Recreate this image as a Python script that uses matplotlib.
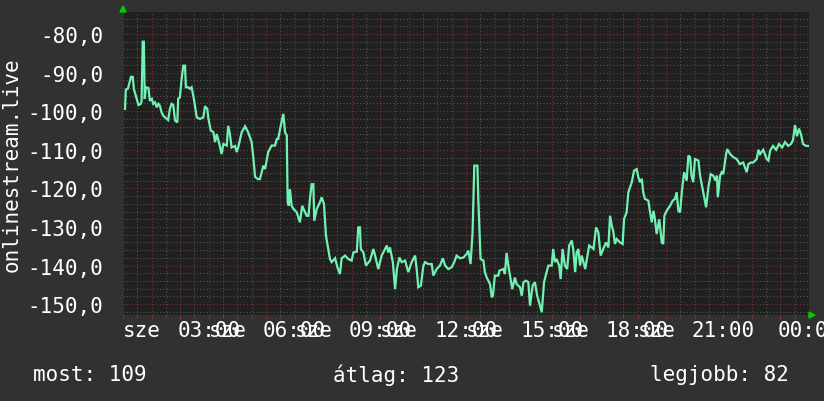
import numpy as np
import matplotlib
matplotlib.use('Agg')
import matplotlib.pyplot as plt
from matplotlib.ticker import MultipleLocator, FixedLocator

# data: hours since midnight, value (negated ms)
hours = [0.07, 0.10, 0.17, 0.28, 0.34, 0.38, 0.48, 0.54, 0.62, 0.65, 0.69, 0.73, 0.76, 0.80, 0.89,
         0.94, 1.01, 1.06, 1.12, 1.18, 1.24, 1.29, 1.35, 1.41, 1.53, 1.58, 1.64, 1.70, 1.76, 1.82,
         1.90, 1.93, 1.99, 2.05, 2.11, 2.17, 2.20, 2.28, 2.34, 2.40, 2.48, 2.58, 2.69, 2.81, 2.87,
         2.95, 2.98, 3.07, 3.16, 3.22, 3.28, 3.37, 3.45, 3.51, 3.63, 3.68, 3.74, 3.80, 3.92, 3.98,
         4.03, 4.15, 4.27, 4.38, 4.50, 4.56, 4.62, 4.72, 4.79, 4.91, 4.97, 5.08, 5.20, 5.32, 5.38,
         5.43, 5.52, 5.61, 5.67, 5.73, 5.76, 5.80, 5.84, 5.90, 5.96, 6.08, 6.19, 6.27, 6.37, 6.43,
         6.49, 6.54, 6.60, 6.66, 6.69, 6.78, 6.89, 6.95, 7.03, 7.10, 7.18, 7.24, 7.30, 7.42, 7.50,
         7.59, 7.65, 7.77, 7.88, 8.00, 8.06, 8.18, 8.23, 8.29, 8.32, 8.41, 8.50, 8.64, 8.76, 8.82,
         8.93, 9.05, 9.17, 9.23, 9.28, 9.34, 9.44, 9.52, 9.58, 9.67, 9.75, 9.87, 9.98, 10.10, 10.22,
         10.28, 10.33, 10.42, 10.51, 10.57, 10.68, 10.80, 10.86, 10.97, 11.09, 11.19, 11.27, 11.38,
         11.50, 11.59, 11.67, 11.79, 11.91, 12.02, 12.08, 12.16, 12.23, 12.29, 12.40, 12.43, 12.51,
         12.61, 12.66, 12.72, 12.84, 12.90, 12.94, 13.01, 13.13, 13.17, 13.31, 13.36, 13.42, 13.48,
         13.54, 13.62, 13.71, 13.77, 13.89, 13.95, 14.01, 14.10, 14.18, 14.24, 14.33, 14.41, 14.49,
         14.59, 14.65, 14.73, 14.82, 14.88, 15.00, 15.05, 15.11, 15.17, 15.26, 15.31, 15.38, 15.46,
         15.54, 15.61, 15.70, 15.75, 15.82, 15.87, 15.93, 15.99, 16.05, 16.17, 16.23, 16.31, 16.40,
         16.46, 16.55, 16.63, 16.71, 16.80, 16.90, 16.98, 17.04, 17.10, 17.15, 17.21, 17.27, 17.39,
         17.48, 17.53, 17.62, 17.68, 17.80, 17.88, 17.97, 18.03, 18.09, 18.15, 18.20, 18.26, 18.38,
         18.44, 18.50, 18.56, 18.61, 18.67, 18.76, 18.85, 18.90, 18.94, 19.02, 19.14, 19.23, 19.31,
         19.37, 19.43, 19.49, 19.55, 19.63, 19.72, 19.78, 19.84, 19.89, 19.95, 20.01, 20.13, 20.19,
         20.30, 20.40, 20.48, 20.56, 20.65, 20.73, 20.78, 20.81, 20.89, 20.95, 21.00, 21.10, 21.14,
         21.24, 21.35, 21.47, 21.58, 21.70, 21.82, 21.88, 21.96, 22.05, 22.17, 22.23, 22.29, 22.40,
         22.52, 22.58, 22.64, 22.74, 22.85, 22.95, 23.06, 23.16, 23.27, 23.37, 23.44, 23.51, 23.58,
         23.65, 23.72, 23.79, 23.90, 24.00]
values = [-99.4, -94.4, -94.2, -91.1, -91.1, -94.2, -96.8, -98.4, -98.1, -97.5, -82.0, -82.0, -96.8, -93.8, -94.0,
          -97.3, -96.8, -98.1, -97.7, -99.0, -98.1, -98.6, -100.3, -101.2, -102.0, -102.3, -99.4, -98.1, -98.4, -102.4,
          -102.9, -96.8, -96.4, -91.7, -88.2, -88.2, -93.8, -93.8, -94.2, -93.8, -96.8, -101.6, -102.0, -101.6, -98.7,
          -99.4, -101.6, -105.0, -105.4, -108.0, -105.9, -108.5, -111.1, -108.5, -108.9, -103.8, -105.9, -109.4, -109.0, -110.6,
          -109.4, -105.5, -103.9, -105.5, -108.0, -112.0, -117.0, -117.6, -117.6, -114.1, -115.0, -110.6, -108.9, -108.9, -107.2,
          -107.2, -103.7, -100.7, -105.5, -106.3, -123.6, -124.5, -120.2, -124.5, -125.3, -126.2, -128.8, -124.5, -126.2, -127.1,
          -127.1, -122.7, -118.9, -118.9, -128.4, -125.3, -123.6, -122.3, -124.0, -132.2, -135.7, -138.3, -139.1, -138.1, -140.4,
          -142.2, -138.1, -137.4, -138.3, -138.7, -136.6, -136.4, -130.1, -130.1, -135.7, -136.6, -140.0, -138.7, -135.7, -137.4,
          -140.9, -137.4, -135.7, -134.8, -136.6, -135.3, -139.1, -146.1, -141.0, -137.9, -139.1, -138.7, -141.7, -139.1, -137.4,
          -141.3, -145.6, -145.2, -140.0, -139.1, -139.6, -139.6, -142.6, -140.9, -140.0, -138.1, -140.0, -140.9,
          -140.4, -139.1, -137.4, -138.1, -137.9, -137.0, -136.1, -139.6, -131.4, -114.1, -114.1, -122.7, -138.3,
          -138.7, -141.7, -143.0, -144.8, -148.2, -147.8, -142.6, -142.6, -141.3, -140.9, -142.2, -136.7, -140.0,
          -142.6, -146.1, -143.1, -144.8, -145.6, -147.8, -144.3, -143.9, -144.3, -150.4, -145.2, -144.3, -147.8,
          -150.4, -152.1, -144.3, -141.7, -140.0, -140.0, -135.7, -139.1, -138.3, -140.0, -143.5, -135.7, -140.0,
          -140.9, -134.8, -133.5, -135.7, -141.7, -136.6, -135.7, -140.0, -137.4, -140.9, -138.3, -134.8, -135.3,
          -135.7, -130.1, -131.4, -137.4, -135.7, -134.0, -135.3, -127.1, -129.7, -131.0, -134.4, -133.1, -134.0,
          -134.4, -127.9, -126.2, -121.0, -118.4, -115.4, -115.0, -117.1, -118.4, -117.5, -121.0, -122.7, -123.2,
          -126.2, -128.8, -125.8, -128.0, -131.8, -128.0, -134.0, -134.4, -127.1, -125.8, -124.5, -123.2, -122.7,
          -121.0, -125.8, -126.2, -121.0, -115.8, -118.0, -111.5, -111.9, -116.7, -118.4, -112.4, -112.8, -116.7,
          -121.0, -124.9, -119.7, -116.3, -116.7, -118.0, -116.7, -122.3, -116.7, -115.8, -116.3, -111.1, -109.8,
          -111.1, -111.9, -112.4, -113.7, -113.3, -115.8, -113.7, -113.3, -113.3, -112.4, -110.0, -111.1, -110.0,
          -112.4, -112.8, -110.2, -109.0, -110.0, -108.5, -109.4, -108.0, -109.0, -108.5, -107.5, -103.6, -106.5,
          -104.5, -106.0, -108.5, -109.0, -109.0]

time_labels = ['03:00', '06:00', '09:00', '12:00', '15:00', '18:00', '21:00', '00:00']
time_label_hours = [3, 6, 9, 12, 15, 18, 21, 24]
day_label = 'sze'
day_label_hours = [0, 3, 6, 9, 12, 15, 18]
ylabel = 'onlinestream.live'
legend_items = ['most: 109', 'átlag: 123', 'legjobb: 82']

bg = '#313131'
plot_bg = '#202020'
line_col = '#72f2b2'
major_col = '#7a3434'
minor_col = '#555555'
txt = '#ffffff'
font = ['DejaVu Sans Mono']
fs = 15

fig = plt.figure(figsize=(8.24, 4.02), dpi=100, facecolor=bg)
W, H = 824, 402
ax = fig.add_axes([123 / W, (H - 316) / H, (809 - 123) / W, (316 - 13) / H])
ax.set_facecolor(plot_bg)

ax.set_xlim(0, 24)
ax.set_ylim(-152.8, -74.3)

ax.xaxis.set_major_locator(MultipleLocator(1))
ax.xaxis.set_minor_locator(MultipleLocator(0.5))
ax.yaxis.set_major_locator(MultipleLocator(10))
ax.yaxis.set_minor_locator(MultipleLocator(2))
ax.grid(which='minor', color=minor_col, linestyle=(0, (1, 2)), linewidth=0.8)
ax.grid(which='major', color=major_col, linestyle=(0, (1, 2)), linewidth=0.8)
ax.set_axisbelow(True)

ax.plot(hours, values, color=line_col, linewidth=1.6, solid_joinstyle='miter', zorder=3)

for s in ax.spines.values():
    s.set_visible(False)
ax.axhline(-152.8, color='#444444', linewidth=1, linestyle=(0, (1, 1)), zorder=2)

ax.tick_params(axis='x', which='major', length=3, color=major_col, labelbottom=False)
ax.tick_params(axis='x', which='minor', length=2, color=minor_col)
ax.tick_params(axis='y', which='both', length=0, pad=14, labelcolor=txt, labelsize=fs)
ax.set_yticks(np.arange(-150, -79, 10))
ax.set_yticklabels([f'{v:.1f}'.replace('.', ',') for v in np.arange(-150, -79, 10)], family=font)

tr = ax.get_xaxis_transform()
for h, lab in zip(time_label_hours, time_labels):
    ax.text(h, -0.05, lab, transform=tr, ha='center', va='center', color=txt,
            fontsize=fs, family=font, clip_on=False)
for h in day_label_hours:
    ax.text(h, -0.05, day_label, transform=tr, ha='left', va='center', color=txt,
            fontsize=fs, family=font, clip_on=False)

fig.text(12 / W, 1 - 165 / H, ylabel, rotation=90, ha='center', va='center', color=txt,
         fontsize=fs, family=font)

for xp, item in zip([33, 333, 650], legend_items):
    fig.text(xp / W, 1 - 375 / H, item, ha='left', va='center', color=txt, fontsize=fs, family=font)

# green axis arrows
fig.patches.append(plt.Polygon([[120 / W, 1 - 13 / H], [126 / W, 1 - 13 / H], [123 / W, 1 - 7 / H]],
                               closed=True, color='#00cc00', transform=fig.transFigure))
fig.patches.append(plt.Polygon([[809 / W, 1 - 313 / H], [809 / W, 1 - 319 / H], [815 / W, 1 - 316 / H]],
                               closed=True, color='#00cc00', transform=fig.transFigure))

fig.savefig('out.png', dpi=100, facecolor=bg)
